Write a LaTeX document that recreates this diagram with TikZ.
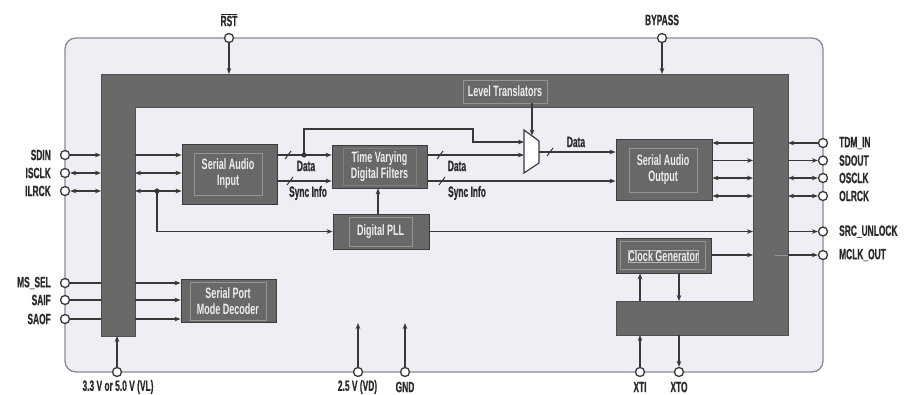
\documentclass[tikz,border=0pt]{standalone}
\usepackage{fontspec}
\setmainfont{Liberation Sans}[FakeStretch=0.56,FakeBold=0.6]
\newfontfamily\blkfont{Liberation Sans}[FakeStretch=0.6]
\usetikzlibrary{arrows.meta}
\definecolor{ln}{HTML}{383838}
\definecolor{txt}{HTML}{2A2A2A}
\definecolor{outf}{HTML}{EDEFF5}
\definecolor{outb}{HTML}{8A8C90}
\definecolor{frm}{HTML}{696969}
\definecolor{frmb}{HTML}{505050}
\definecolor{blkf}{HTML}{686868}
\definecolor{blkb}{HTML}{3C3C3C}
\definecolor{inrb}{HTML}{959595}
\definecolor{blkt}{HTML}{EEEEEE}
\tikzset{
  wire/.style={draw=ln, line width=1.2pt},
  arr/.style={wire, -{Stealth[length=6pt,width=4.6pt]}},
  barr/.style={wire, {Stealth[length=6pt,width=4.6pt]}-{Stealth[length=6pt,width=4.6pt]}},
  pinc/.style={circle, draw=ln, fill=white, line width=1.3pt, minimum size=9pt, inner sep=0pt},
  blk/.style={draw=blkb, fill=blkf, line width=0.9pt, inner sep=0pt},
  inr/.style={draw=inrb, line width=0.5pt, text=blkt, align=center, inner sep=0pt,
    font=\blkfont\bfseries\fontsize{15}{16}\selectfont},
  lbl/.style={text=txt, inner sep=0pt, font=\bfseries\fontsize{15}{16}\selectfont},
  slash/.style={draw=ln, line width=1pt},
}
\begin{document}
\begin{tikzpicture}[x=1pt, y=-1pt]
\useasboundingbox (0,0) rectangle (910,394);

% outer package
\draw[draw=outb, fill=outf, line width=1.3pt, rounded corners=11pt] (65,38) rectangle (823,372);

% level-translator frame
\filldraw[fill=frm, draw=frmb, line width=0.8pt]
  (101,74) -- (788,74) -- (788,335) -- (616,335) -- (616,301) -- (753,301)
  -- (753,107) -- (135,107) -- (135,336) -- (101,336) -- cycle;
\coordinate (FLo) at (101,0);
\coordinate (FLi) at (135,0);
\coordinate (FRi) at (753,0);
\coordinate (FRo) at (788,0);
\coordinate (FT)  at (0,74);
\coordinate (FBi) at (0,301);
\coordinate (FBo) at (0,335);
\coordinate (FLb) at (0,336);

\node[inr, minimum width=84pt, minimum height=23pt] (lt) at (505,91.5) {Level Translators};

% blocks
\node[blk, minimum width=95pt, minimum height=60pt] (sai) at (229.5,174) {};
\node[inr, minimum width=68pt, minimum height=42pt] (saiI) at (228,174) {Serial Audio\\Input};

\node[blk, minimum width=95pt, minimum height=43pt] (tvdf) at (379.5,166.5) {};
\node[inr, draw=blkf!85!white, minimum width=73pt, minimum height=37pt] (tvdfI) at (379.5,166.5) {Time Varying\\Digital Filters};

\node[blk, minimum width=96pt, minimum height=35pt] (pll) at (381,231.5) {};
\node[inr, minimum width=63pt, minimum height=29pt] (pllI) at (380.5,231.5) {Digital PLL};

\node[blk, minimum width=95pt, minimum height=43pt] (spmd) at (228.5,300.5) {};
\node[inr, minimum width=76pt, minimum height=38pt] (spmdI) at (228,301) {Serial Port\\Mode Decoder};

\node[blk, minimum width=96pt, minimum height=61pt] (sao) at (664,169.5) {};
\node[inr, minimum width=68pt, minimum height=44pt] (saoI) at (663,170) {Serial Audio\\Output};

\node[blk, minimum width=95pt, minimum height=35pt] (ckg) at (663.5,255.5) {};
\node[inr, minimum width=85pt, minimum height=28pt] (ckgI) at (662.5,255) {};
\node[inr, draw=inrb!70!white, minimum width=67pt, minimum height=12pt] (ckgT) at (663.5,256.5) {Clock Generator};

% multiplexer
\coordinate (muxTL) at (524,130);
\coordinate (muxBL) at (524,173);
\coordinate (muxTR) at (539,141);
\coordinate (muxBR) at (539,163);
\draw[wire, fill=white] (muxTL) -- (muxTR) -- (muxBR) -- (muxBL) -- cycle;
\coordinate (muxA) at (524,142);
\coordinate (muxB) at (524,155);
\coordinate (muxO) at (539,152);
\coordinate (muxS) at (532,135.5);

% rows
\coordinate (rData) at (0,155);
\coordinate (rSync) at (0,181);

% pins
\node[pinc] (rst)  at (229,38) {};
\node[pinc] (byp)  at (662,38) {};
\node[pinc] (sdin) at (65,155) {};
\node[pinc] (isck) at (65,173) {};
\node[pinc] (ilrk) at (65,191) {};
\node[pinc] (mss)  at (65,283) {};
\node[pinc] (saif) at (65,300) {};
\node[pinc] (saof) at (65,319) {};
\node[pinc] (tdm)  at (823,143) {};
\node[pinc] (sdo)  at (823,160.5) {};
\node[pinc] (osck) at (823,178) {};
\node[pinc] (olrk) at (823,196) {};
\node[pinc] (srcu) at (823,231.5) {};
\node[pinc] (mclk) at (823,255) {};
\node[pinc] (vl)   at (117,372) {};
\node[pinc] (vd)   at (358,372) {};
\node[pinc] (gnd)  at (405,372) {};
\node[pinc] (xti)  at (640,372) {};
\node[pinc] (xto)  at (679,372) {};

% pin labels
\node[lbl] (lrst) at (229,20) {$\overline{\hbox{RST}}$};
\node[lbl] (lbyp) at (662,20) {BYPASS};
\node[lbl, anchor=east] (lsdin) at (51,155) {SDIN};
\node[lbl, anchor=east] (lisck) at (51,173) {ISCLK};
\node[lbl, anchor=east] (lilrk) at (51,191) {ILRCK};
\node[lbl, anchor=east] (lmss)  at (51,283) {MS\_SEL};
\node[lbl, anchor=east] (lsaif) at (51,300) {SAIF};
\node[lbl, anchor=east] (lsaof) at (51,319) {SAOF};
\node[lbl, anchor=west] (ltdm)  at (839,143) {TDM\_IN};
\node[lbl, anchor=west] (lsdo)  at (839,160.5) {SDOUT};
\node[lbl, anchor=west] (losck) at (839,178) {OSCLK};
\node[lbl, anchor=west] (lolrk) at (839,196) {OLRCK};
\node[lbl, anchor=west] (lsrcu) at (839,231.5) {SRC\_UNLOCK};
\node[lbl, anchor=west] (lmclk) at (839,255) {MCLK\_OUT};
\node[lbl] (lvl)  at (118,387) {3.3 V or 5.0 V (VL)};
\node[lbl] (lvd)  at (357.5,387) {2.5 V (VD)};
\node[lbl] (lgnd) at (405,387) {GND};
\node[lbl] (lxti) at (640,387) {XTI};
\node[lbl] (lxto) at (679,387) {XTO};

% top pins
\draw[arr] (rst) -- (rst |- FT);
\draw[arr] (byp) -- (byp |- FT);

% left pins to frame
\draw[arr]  (sdin) -- (FLo |- sdin);
\draw[barr] (isck) -- (FLo |- isck);
\draw[barr] (ilrk) -- (FLo |- ilrk);
\draw[wire] (mss)  -- (FLo |- mss);
\draw[wire] (saif) -- (FLo |- saif);
\draw[wire] (saof) -- (FLo |- saof);

% frame to serial audio input
\draw[arr]  (FLi |- sdin) -- (sai.west |- sdin);
\draw[barr] (FLi |- isck) -- (sai.west |- isck);
\draw[barr] (FLi |- ilrk) -- (sai.west |- ilrk);
\coordinate (br) at (157,191);
\fill[ln] (br) circle (2.6pt);
\draw[arr] (br) |- (pll.west);

% frame to serial port mode decoder
\draw[arr] (FLi |- mss)  -- (spmd.west |- mss);
\draw[arr] (FLi |- saif) -- (spmd.west |- saif);
\draw[arr] (FLi |- saof) -- (spmd.west |- saof);

% SAI to TVDF
\draw[arr] (sai.east |- rData) -- (tvdf.west |- rData);
\draw[arr] (sai.east |- rSync) -- (tvdf.west |- rSync);
\draw[slash] (285,159) -- (291,151);
\draw[slash] (287,185) -- (293,177);
\coordinate (dj) at (304,155);
\fill[ln] (dj) circle (2.6pt);
\draw[arr] (dj) -- (304,129) -- (473,129) -- (473,142) -- (muxA);
\node[lbl] (ld1) at (306,166) {Data};
\node[lbl] (ls1) at (308,193) {Sync Info};

% TVDF outputs
\draw[arr] (tvdf.east |- rData) -- (muxB);
\draw[arr] (tvdf.east |- rSync) -- (sao.west |- rSync);
\draw[slash] (437,159) -- (443,151);
\draw[slash] (439,185) -- (445,177);
\node[lbl] (ld2) at (457,166) {Data};
\node[lbl] (ls2) at (467,193) {Sync Info};

% mux
\draw[arr] (lt.south -| muxS) -- (muxS);
\draw[arr] (muxO) -- (sao.west |- muxO);
\draw[slash] (547,156) -- (553,148);
\node[lbl] (ld3) at (576,142) {Data};

% PLL
\draw[arr] (pll.north -| 378,0) -- (tvdf.south -| 378,0);
\draw[arr] (pll.east) -- (FRi |- pll.east);

% SAO to frame
\draw[arr, line width=1.6pt] (FRi |- tdm) -- (sao.east |- tdm);
\draw[arr]  (sao.east |- sdo)  -- (FRi |- sdo);
\draw[barr] (sao.east |- osck) -- (FRi |- osck);
\draw[barr] (sao.east |- olrk) -- (FRi |- olrk);

% right pins
\draw[arr]  (tdm) -- (FRo |- tdm);
\draw[arr]  (FRo |- sdo) -- (sdo);
\draw[barr] (FRo |- osck) -- (osck);
\draw[barr] (FRo |- olrk) -- (olrk);
\draw[arr]  (FRo |- srcu) -- (srcu);
\draw[arr]  (FRo |- mclk) -- (mclk);
\draw[draw=inrb, line width=0.6pt] (775,255) -- (FRo |- mclk);

% clock generator
\draw[arr] (ckg.east |- mclk) -- (FRi |- mclk);
\draw[arr] (xti |- FBi) -- (ckg.south -| xti);
\draw[arr] (ckg.south -| xto) -- (xto |- FBi);
\draw[arr] (xti) -- (xti |- FBo);
\draw[arr] (xto |- FBo) -- (xto);

% bottom pins
\draw[arr] (vl) -- (vl |- FLb);
\draw[arr] (vd) -- (358,323);
\draw[arr] (gnd) -- (405,323);
\end{tikzpicture}
\end{document}
